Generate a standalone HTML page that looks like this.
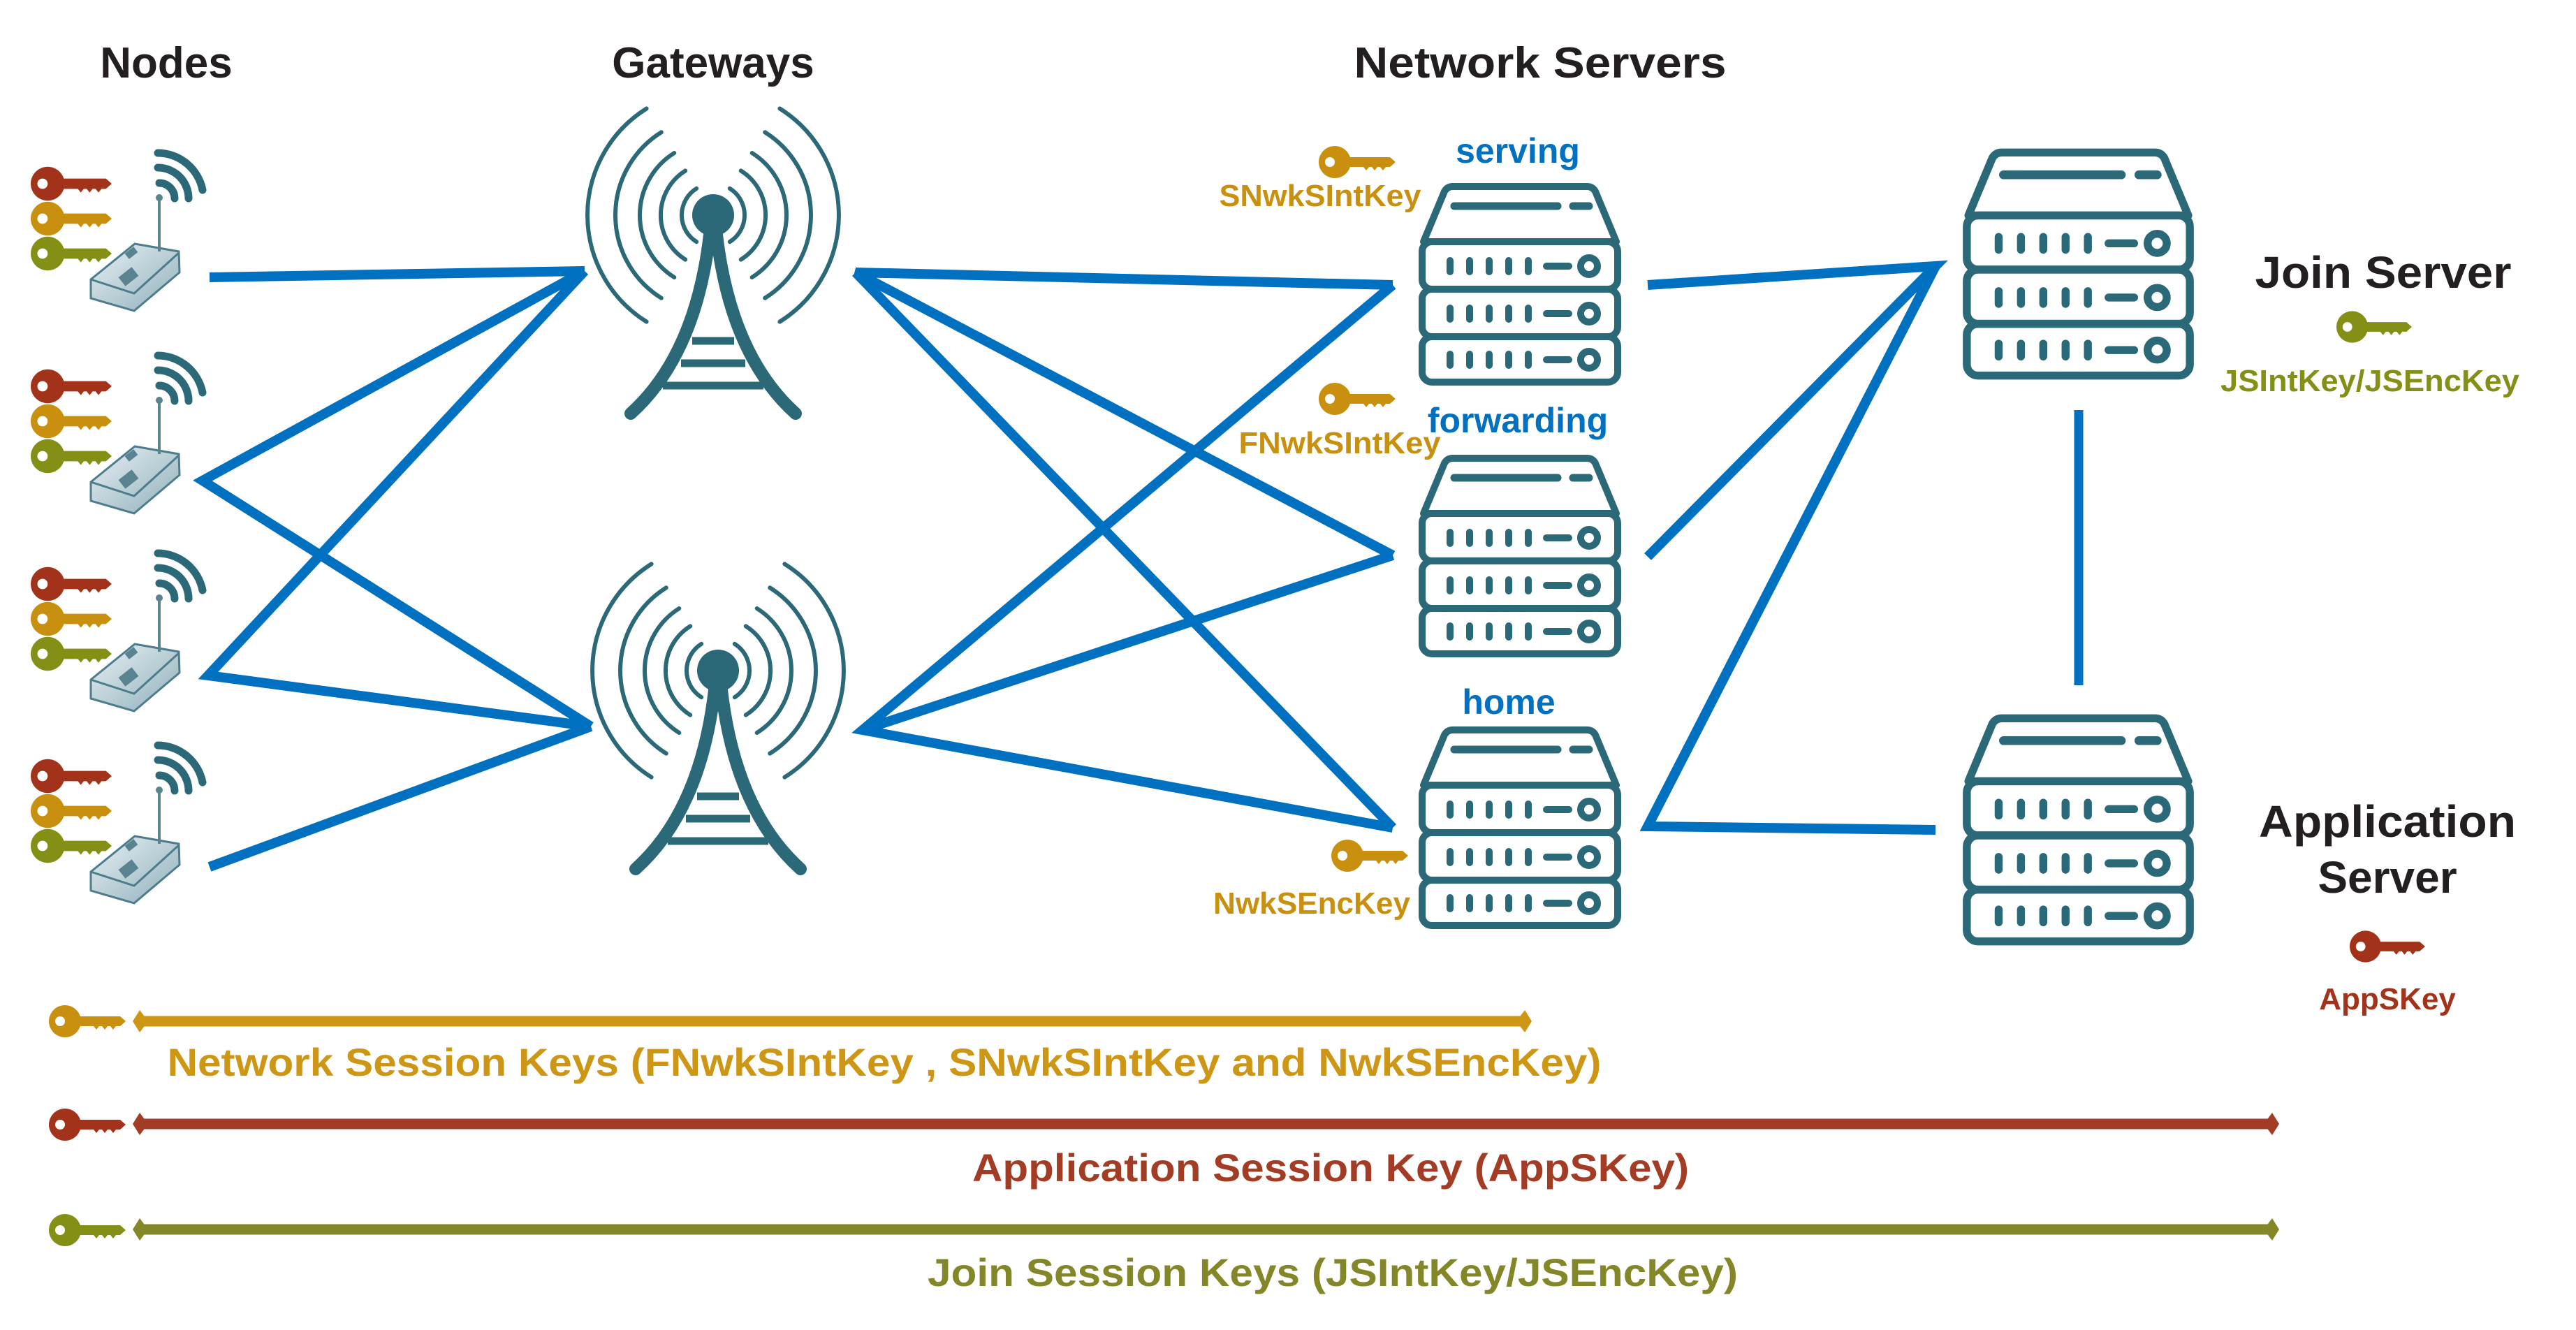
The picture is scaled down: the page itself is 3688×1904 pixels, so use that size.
<!DOCTYPE html>
<html><head><meta charset="utf-8"><style>
html,body{margin:0;padding:0;background:#fff;}
svg{display:block;}
text{font-family:"Liberation Sans",Arial,sans-serif;font-weight:bold;}
</style></head><body>
<svg width="3688" height="1904" viewBox="0 0 3688 1904" xmlns="http://www.w3.org/2000/svg">
<defs>
<symbol id="key" viewBox="0 0 110 46">
<circle cx="23" cy="23" r="23"/>
<path d="M38 16 L102 16 L110 23 L102 30 L96 30 L92 35 L88 30 L84 30 L80 35 L76 30 L72 30 L68 35 L64 30 L38 30 Z"/>
<circle cx="16" cy="23" r="7" fill="#fff"/>
</symbol>
<symbol id="srv" viewBox="0 0 292 290">
<g fill="none" stroke="#2B6878" stroke-width="10" stroke-linejoin="round" stroke-linecap="round">
<path d="M8 84 L38 12 Q42 5 50 5 L242 5 Q250 5 254 12 L284 84 Z"/>
<rect x="6" y="84" width="280" height="68" rx="14"/>
<rect x="6" y="152" width="280" height="68" rx="14"/>
<rect x="6" y="220" width="280" height="65" rx="14"/>
<path d="M52 33 L200 33 M222 33 L245 33" stroke-width="11"/>
<g stroke-width="10">
<path d="M46 111 v16 M74 111 v16 M102 111 v16 M130 111 v16 M158 111 v16 M184 119 h32"/>
<path d="M46 179 v16 M74 179 v16 M102 179 v16 M130 179 v16 M158 179 v16 M184 187 h32"/>
<path d="M46 245 v16 M74 245 v16 M102 245 v16 M130 245 v16 M158 245 v16 M184 253 h32"/>
</g>
<circle cx="245" cy="119" r="12"/><circle cx="245" cy="187" r="12"/><circle cx="245" cy="253" r="12"/>
</g>
</symbol>
<linearGradient id="dev" x1="0" y1="0" x2="1" y2="1">
<stop offset="0" stop-color="#e8f0f3"/><stop offset="1" stop-color="#8fb0bb"/>
</linearGradient>
<g id="node">
<use href="#key" x="44" y="238" width="116" height="50" fill="#A3321A"/>
<use href="#key" x="44" y="288" width="116" height="50" fill="#C8900E"/>
<use href="#key" x="44" y="338" width="116" height="50" fill="#839015"/>
<path d="M130 400 L193 349 L256 360 L257 390 L192 445 L130 427 Z" fill="url(#dev)" stroke="#4d7d8c" stroke-width="3"/>
<path d="M130 400 L192 420 L256 362" fill="none" stroke="#4d7d8c" stroke-width="3"/>
<rect x="172" y="388" width="24" height="16" fill="#5a8391" transform="rotate(-38 184 396)"/>
<rect x="180" y="357" width="16" height="10" fill="#5a8391" transform="rotate(-38 188 362)"/>
<line x1="228" y1="283" x2="228" y2="360" stroke="#5a8391" stroke-width="4"/>
<circle cx="228" cy="283" r="5" fill="#5a8391"/>
<g fill="none" stroke="#2B6878" stroke-width="11" stroke-linecap="round">
<path d="M228 262 A22 22 0 0 1 250 284"/>
<path d="M226 240 A44 44 0 0 1 270 284"/>
<path d="M226 219 A66 66 0 0 1 290 272"/>
</g>
</g>
<g id="gw">
<g fill="none" stroke="#2B6878" stroke-width="6" stroke-linecap="round">
<path d="M23.8 -38.2 A45 45 0 0 1 23.8 38.2"/><path d="M-23.8 -38.2 A45 45 0 0 0 -23.8 38.2"/>
<path d="M39.8 -63.6 A75 75 0 0 1 39.8 63.6"/><path d="M-39.8 -63.6 A75 75 0 0 0 -39.8 63.6"/>
<path d="M55.7 -89 A105 105 0 0 1 55.7 89"/><path d="M-55.7 -89 A105 105 0 0 0 -55.7 89"/>
<path d="M74.2 -118.7 A140 140 0 0 1 74.2 118.7"/><path d="M-74.2 -118.7 A140 140 0 0 0 -74.2 118.7"/>
<path d="M95.4 -152.6 A180 180 0 0 1 95.4 152.6"/><path d="M-95.4 -152.6 A180 180 0 0 0 -95.4 152.6"/>
</g>
<circle cx="0" cy="0" r="30" fill="#2B6878"/>
<g fill="none" stroke="#2B6878" stroke-width="18" stroke-linecap="round">
<path d="M-5 28 Q-25 200 -118 284"/>
<path d="M5 28 Q25 200 118 284"/>
</g>
<g stroke="#2B6878" stroke-width="11">
<line x1="-30" y1="180" x2="30" y2="180"/>
<line x1="-46" y1="212" x2="46" y2="212"/>
<line x1="-72" y1="244" x2="72" y2="244"/>
</g>
</g>
</defs>

<text x="238" y="111" font-size="62" fill="#231F20" text-anchor="middle">Nodes</text>
<text x="1021" y="111" font-size="62" fill="#231F20" text-anchor="middle">Gateways</text>
<text x="2205" y="111" font-size="62" fill="#231F20" text-anchor="middle" textLength="533" lengthAdjust="spacingAndGlyphs">Network Servers</text>

<g stroke="#0070C0" stroke-width="14" stroke-linecap="butt" fill="none">
<line x1="300" y1="397" x2="837" y2="388"/>
<polyline points="837,388 290,688 846,1040"/>
<polyline points="837,388 298,967 846,1040"/>
<line x1="300" y1="1241" x2="846" y2="1040"/>
<polyline points="1994,408 1225,390 1994,795"/>
<line x1="1225" y1="390" x2="1994" y2="1185"/>
<polyline points="1994,408 1235,1045 1994,1185"/>
<line x1="1235" y1="1045" x2="1994" y2="795"/>
<polyline points="2359,408 2771,381 2359,797"/>
<polyline points="2771,381 2359,1183 2771,1188"/>
<line x1="2976" y1="587" x2="2976" y2="981" stroke-width="13"/>
</g>

<use href="#node"/>
<use href="#node" y="290"/>
<use href="#node" y="573"/>
<use href="#node" y="848"/>

<use href="#gw" x="1021" y="308"/>
<use href="#gw" x="1028" y="960"/>

<use href="#srv" x="2030" y="262" width="292" height="290"/>
<use href="#srv" x="2030" y="651" width="292" height="290"/>
<use href="#srv" x="2030" y="1040" width="292" height="290"/>
<use href="#srv" x="2809" y="212" width="333" height="332"/>
<use href="#srv" x="2809" y="1022" width="333" height="332"/>

<text x="2173" y="233" font-size="50" fill="#0070C0" text-anchor="middle">serving</text>
<text x="2173" y="619" font-size="50" fill="#0070C0" text-anchor="middle">forwarding</text>
<text x="2160" y="1022" font-size="50" fill="#0070C0" text-anchor="middle">home</text>
<use href="#key" x="1888" y="208" width="110" height="48" fill="#C8900E"/>
<text x="1890" y="295" font-size="44" fill="#C8900E" text-anchor="middle" textLength="289" lengthAdjust="spacingAndGlyphs">SNwkSIntKey</text>
<use href="#key" x="1888" y="547" width="110" height="48" fill="#C8900E"/>
<text x="1918" y="649" font-size="44" fill="#C8900E" text-anchor="middle" textLength="289" lengthAdjust="spacingAndGlyphs">FNwkSIntKey</text>
<use href="#key" x="1906" y="1201" width="110" height="48" fill="#C8900E"/>
<text x="1878" y="1308" font-size="44" fill="#C8900E" text-anchor="middle" textLength="282" lengthAdjust="spacingAndGlyphs">NwkSEncKey</text>

<text x="3412" y="412" font-size="64" fill="#231F20" text-anchor="middle" textLength="367" lengthAdjust="spacingAndGlyphs">Join Server</text>
<use href="#key" x="3345" y="444" width="108" height="48" fill="#839015"/>
<text x="3393" y="560" font-size="44" fill="#839015" text-anchor="middle" textLength="428" lengthAdjust="spacingAndGlyphs">JSIntKey/JSEncKey</text>
<text x="3418" y="1198" font-size="64" fill="#231F20" text-anchor="middle" textLength="368" lengthAdjust="spacingAndGlyphs">Application</text>
<text x="3418" y="1278" font-size="64" fill="#231F20" text-anchor="middle">Server</text>
<use href="#key" x="3364" y="1331" width="108" height="48" fill="#A3321A"/>
<text x="3418" y="1445" font-size="44" fill="#A3321A" text-anchor="middle">AppSKey</text>

<use href="#key" x="70" y="1437" width="110" height="50" fill="#C8900E"/>
<use href="#key" x="70" y="1585" width="110" height="50" fill="#A3321A"/>
<use href="#key" x="70" y="1736" width="110" height="50" fill="#839015"/>
<g stroke-width="15">
<line x1="205" y1="1462" x2="2178" y2="1462" stroke="#CD9614"/>
<line x1="205" y1="1609" x2="3248" y2="1609" stroke="#A33C24"/>
<line x1="205" y1="1760" x2="3248" y2="1760" stroke="#838727"/>
</g>
<path d="M200 1446 L212 1462 L200 1478 L190 1462 Z M2183 1446 L2193 1462 L2183 1478 L2171 1462 Z" fill="#CD9614"/>
<path d="M200 1593 L212 1609 L200 1625 L190 1609 Z M3253 1593 L3263 1609 L3253 1625 L3241 1609 Z" fill="#A33C24"/>
<path d="M200 1744 L212 1760 L200 1776 L190 1760 Z M3253 1744 L3263 1760 L3253 1776 L3241 1760 Z" fill="#838727"/>
<text x="1266" y="1540" font-size="56" fill="#CD9614" text-anchor="middle" textLength="2053" lengthAdjust="spacingAndGlyphs">Network Session Keys (FNwkSIntKey , SNwkSIntKey and NwkSEncKey)</text>
<text x="1905" y="1691" font-size="56" fill="#A33C24" text-anchor="middle" textLength="1026" lengthAdjust="spacingAndGlyphs">Application Session Key (AppSKey)</text>
<text x="1908" y="1841" font-size="56" fill="#838727" text-anchor="middle" textLength="1160" lengthAdjust="spacingAndGlyphs">Join Session Keys (JSIntKey/JSEncKey)</text>
</svg>
</body></html>
